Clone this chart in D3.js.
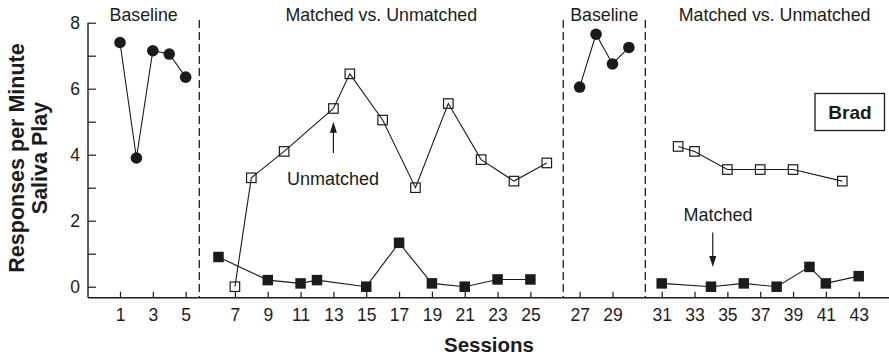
<!DOCTYPE html>
<html>
<head>
<meta charset="utf-8">
<script src="https://cdn.jsdelivr.net/npm/d3@7"></script>
<style>
  body { margin: 0; background: #fff; }
  svg { display: block; font-family: "Liberation Sans", Arial, sans-serif; }
</style>
</head>
<body>
<svg width="889" height="358"></svg>
<script>
// sessions where a new phase begins (adds one empty slot on the axis)
var phaseStarts = [6, 27, 31];
var phaseNames = ["Baseline", "Matched vs. Unmatched", "Baseline", "Matched vs. Unmatched"];

var baseline1Sessions = [1, 2, 3, 4, 5];
var baseline1Values = [7.4, 3.9, 7.15, 7.05, 6.35];
var unmatched1Sessions = [7, 8, 10, 13, 14, 16, 18, 20, 22, 24, 26];
var unmatched1Values = [0, 3.3, 4.1, 5.4, 6.45, 5.05, 3.0, 5.55, 3.85, 3.2, 3.75];
var matched1Sessions = [6, 9, 11, 12, 15, 17, 19, 21, 23, 25];
var matched1Values = [0.9, 0.2, 0.1, 0.2, 0, 1.33, 0.1, 0, 0.22, 0.22];
var baseline2Sessions = [27, 28, 29, 30];
var baseline2Values = [6.05, 7.65, 6.75, 7.25];
var unmatched2Sessions = [32, 33, 35, 37, 39, 42];
var unmatched2Values = [4.25, 4.1, 3.55, 3.55, 3.55, 3.2];
var matched2Sessions = [31, 34, 36, 38, 40, 41, 43];
var matched2Values = [0.1, 0, 0.1, 0, 0.6, 0.1, 0.32];

var xTickSessions = [1, 3, 5, 7, 9, 11, 13, 15, 17, 19, 21, 23, 25, 27, 29, 31, 33, 35, 37, 39, 41, 43];
var yTicks = [0, 1, 2, 3, 4, 5, 6, 7, 8];

var svg = d3.select("svg");
var ink = "#1b1b1b";

// session -> slot on the axis
var pos = function (s) {
    return s + phaseStarts.filter(function (p) { return p <= s; }).length;
};

var x = d3.scaleLinear().domain([1, 46]).range([120, 858.7]);
var y = d3.scaleLinear().domain([0, 8]).range([286.7, 22.7]);
var axisY = 297.7, axisX = 88;

// phase change lines, in slot units
var phaseLines = [5.83, 28, 33];

svg.selectAll(".phase").data(phaseLines).enter().append("line")
    .attr("x1", function (d) { return x(d); })
    .attr("x2", function (d) { return x(d); })
    .attr("y1", 20).attr("y2", axisY)
    .attr("stroke", ink).attr("stroke-width", 1.3)
    .attr("stroke-dasharray", "8,4");

var bounds = [axisX].concat(phaseLines.map(x)).concat([904]);
svg.selectAll(".phaseName").data(phaseNames).enter().append("text")
    .text(function (d) { return d; })
    .attr("x", function (d, i) { return (bounds[i] + bounds[i + 1]) / 2; })
    .attr("y", 21)
    .attr("text-anchor", "middle")
    .attr("font-size", "17.8px")
    .attr("fill", ink);

// axes
var xAxis = d3.axisBottom(x)
    .tickValues(xTickSessions.map(pos))
    .tickFormat(function (p, i) { return xTickSessions[i]; })
    .tickSize(-6).tickSizeOuter(0).tickPadding(10.5);
var gx = svg.append("g").attr("transform", "translate(0," + axisY + ")").call(xAxis);
gx.select(".domain").remove();
gx.append("line").attr("x1", axisX).attr("x2", 889).attr("stroke", ink).attr("stroke-width", 1.4);

var yAxis = d3.axisLeft(y)
    .tickValues(yTicks)
    .tickFormat(function (d) { return d % 2 === 0 ? d : ""; })
    .tickSize(-8).tickSizeOuter(0).tickPadding(8);
var gy = svg.append("g").attr("transform", "translate(" + axisX + ",0)").call(yAxis);
gy.select(".domain").remove();
gy.append("line").attr("y1", y(8)).attr("y2", axisY).attr("stroke", ink).attr("stroke-width", 1.4);

svg.selectAll(".tick line").attr("stroke", ink).attr("stroke-width", 1.2);
svg.selectAll(".tick text").attr("font-size", "17.5px").attr("fill", ink)
    .attr("font-family", "Liberation Sans, Arial, sans-serif");

// series
var line = d3.line()
    .x(function (d) { return x(pos(d[0])); })
    .y(function (d) { return y(d[1]); });

var series = [
    [baseline1Sessions, baseline1Values, "circle"],
    [unmatched1Sessions, unmatched1Values, "open"],
    [matched1Sessions, matched1Values, "filled"],
    [baseline2Sessions, baseline2Values, "circle"],
    [unmatched2Sessions, unmatched2Values, "open"],
    [matched2Sessions, matched2Values, "filled"]
];

series.forEach(function (s) {
    var pts = d3.zip(s[0], s[1]);
    svg.append("path").datum(pts)
        .attr("d", line)
        .attr("fill", "none").attr("stroke", ink).attr("stroke-width", 1.1);

    if (s[2] === "circle") {
        svg.selectAll(null).data(pts).enter().append("circle")
            .attr("cx", function (d) { return x(pos(d[0])); })
            .attr("cy", function (d) { return y(d[1]); })
            .attr("r", 5.8).attr("fill", ink);
    } else {
        var side = s[2] === "filled" ? 10.5 : 9.5;
        svg.selectAll(null).data(pts).enter().append("rect")
            .attr("x", function (d) { return x(pos(d[0])) - side / 2; })
            .attr("y", function (d) { return y(d[1]) - side / 2; })
            .attr("width", side).attr("height", side)
            .attr("fill", s[2] === "filled" ? ink : "none")
            .attr("stroke", ink).attr("stroke-width", s[2] === "filled" ? 0 : 1.2);
    }
});

// annotations: label + arrow (tail value -> tip value)
var notes = [
    { text: "Unmatched", session: 13, labelX: 333, labelValue: 3.08, tail: 4.05, tip: 5.0 },
    { text: "Matched", session: 34, labelX: 718, labelValue: 1.99, tail: 1.64, tip: 0.6 }
];

notes.forEach(function (n) {
    var ax = x(pos(n.session)) + (n.session === 34 ? 1.8 : 0);
    var dir = n.tip > n.tail ? -1 : 1; // screen direction of tip
    var yt = y(n.tip), yb = y(n.tail);
    svg.append("line").attr("x1", ax).attr("x2", ax)
        .attr("y1", yb).attr("y2", yt - dir * 8)
        .attr("stroke", ink).attr("stroke-width", 1.2);
    svg.append("path")
        .attr("d", "M" + ax + "," + yt + "L" + (ax - 3.5) + "," + (yt - dir * 11) +
            "L" + (ax + 3.5) + "," + (yt - dir * 11) + "Z")
        .attr("fill", ink);
    svg.append("text").text(n.text)
        .attr("x", n.labelX).attr("y", y(n.labelValue))
        .attr("text-anchor", "middle").attr("font-size", "18px").attr("fill", ink);
});

// name box
svg.append("rect").attr("x", 815).attr("y", 93.5).attr("width", 69.5).attr("height", 37)
    .attr("fill", "#fff").attr("stroke", ink).attr("stroke-width", 1.3);
svg.append("text").text("Brad")
    .attr("x", 850).attr("y", 118.5).attr("text-anchor", "middle")
    .attr("font-size", "19px").attr("font-weight", "bold").attr("fill", ink);

// axis titles
svg.append("text").text("Sessions")
    .attr("x", 489).attr("y", 352)
    .attr("text-anchor", "middle")
    .attr("font-size", "20.5px").attr("font-weight", "bold").attr("fill", ink);

var yTitle = svg.append("text")
    .attr("transform", "translate(0,158) rotate(-90)")
    .attr("text-anchor", "middle")
    .attr("font-size", "21.5px").attr("font-weight", "bold").attr("fill", ink);
yTitle.append("tspan").text("Responses per Minute").attr("x", 0).attr("y", 24);
yTitle.append("tspan").text("Saliva Play").attr("x", 0).attr("y", 47);
</script>
</body>
</html>
